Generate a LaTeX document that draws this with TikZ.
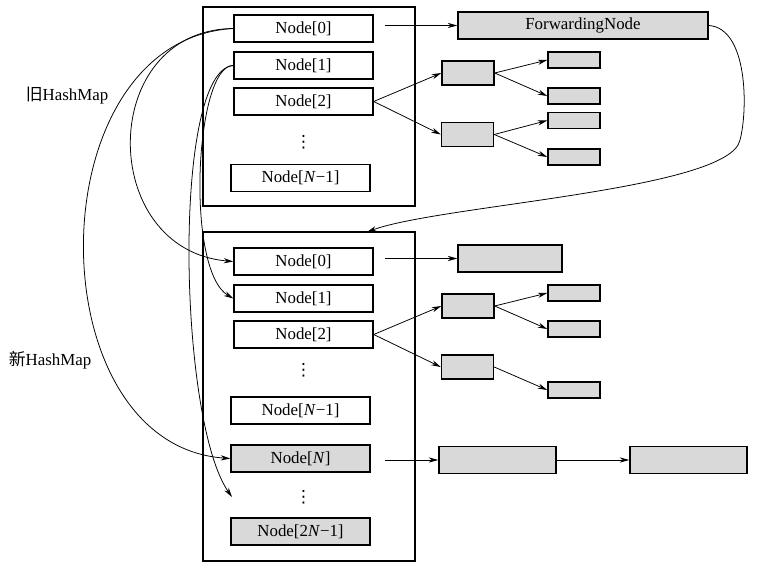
\documentclass[tikz,border=0pt]{standalone}
\usepackage{fontspec}
\setmainfont{Liberation Serif}
\newfontfamily\cjk{Noto Sans CJK SC}
\newfontfamily\symf{DejaVu Sans}
\usetikzlibrary{arrows.meta}
\definecolor{cellgray}{RGB}{217,217,217}

\begin{document}
\begin{tikzpicture}[x=0.025cm,y=-0.025cm,
    every node/.style={font=\fontsize{12}{14}\selectfont},
    table/.style={draw,line width=1pt,minimum width=5.3cm,inner sep=0pt},
    slot/.style={draw,line width=1pt,minimum width=3.475cm,minimum height=0.675cm,inner sep=0pt},
    newslot/.style={slot,fill=cellgray},
    cell/.style={draw,line width=1pt,fill=cellgray,inner sep=0pt,minimum width=1.3cm,minimum height=0.6cm},
    leaf/.style={cell,minimum height=0.4cm},
    more/.style={inner sep=0pt,font=\symf\fontsize{12}{14}\selectfont},
    link/.style={-{Stealth[length=2.4mm,width=1.3mm]},line width=0.55pt}]
    \useasboundingbox (0,0) rectangle (775,571);

    \node[table,minimum height=4.975cm] (old) at (309,106.5) {};
    \node[slot] (o0) at (303.5,28.5) {Node[0]};
    \node[slot] (o1) at (303.5,65.5) {Node[1]};
    \node[slot] (o2) at (303.5,101.5) {Node[2]};
    \node[more] (odots) at (303.5,142) {⋮};
    \node[slot] (on1) at (300.5,178) {Node[\textit{N}−1]};
    \node (oldlbl) at (67,96) {{\cjk 旧}HashMap};

    \node[cell,minimum width=6.25cm,minimum height=0.675cm] (fwd) at (583,25.5) {ForwardingNode};
    \node[cell] (oa1) at (468,73) {};
    \node[cell] (oa2) at (467.5,134.5) {};
    \node[leaf] (ob1) at (574,60) {};
    \node[leaf] (ob2) at (574,96) {};
    \node[leaf] (ob3) at (574,120.5) {};
    \node[leaf] (ob4) at (574,157) {};

    \node[table,minimum height=8.225cm] (new) at (309,396.5) {};
    \node[slot] (n0) at (303.5,261.5) {Node[0]};
    \node[slot] (n1) at (303.5,298.5) {Node[1]};
    \node[slot] (n2) at (303.5,334.5) {Node[2]};
    \node[more] (ndots) at (303.5,370) {⋮};
    \node[slot] (nn1) at (300.5,410.5) {Node[\textit{N}−1]};
    \node[newslot] (nn) at (300.5,458.5) {Node[\textit{N}]};
    \node[more] (ndots2) at (303.5,497) {⋮};
    \node[newslot] (n2n1) at (300.5,531.5) {Node[2\textit{N}−1]};
    \node (newlbl) at (50,360) {{\cjk 新}HashMap};

    \node[cell,minimum width=2.6cm,minimum height=0.675cm] (nc0) at (510,258.5) {};
    \node[cell] (na1) at (468,306) {};
    \node[cell] (na2) at (467.5,367) {};
    \node[leaf] (nb1) at (574,293) {};
    \node[leaf] (nb2) at (574,329) {};
    \node[leaf] (nb3) at (574,390) {};
    \node[cell,minimum width=2.925cm,minimum height=0.675cm] (nd1) at (497.5,460) {};
    \node[cell,minimum width=2.925cm,minimum height=0.675cm] (nd2) at (688.5,460) {};

    \coordinate (fwdin) at (367,232);
    \coordinate (dotsin) at (232,497);

    \path[link]
	(o0.east |- fwd.west) edge[shorten <=0.27cm] (fwd.west)
	(o2.east) edge (oa1.west)
	(o2.east) edge (oa2.west)
	(oa1.east) edge (ob1.west)
	(oa1.east) edge (ob2.west)
	(oa2.east) edge (ob3.west)
	(oa2.east) edge (ob4.west)
	(n0.east |- nc0.west) edge[shorten <=0.27cm] (nc0.west)
	(n2.east) edge (na1.west)
	(n2.east) edge (na2.west)
	(na1.east) edge (nb1.west)
	(na1.east) edge (nb2.west)
	(na2.east) edge (nb3.west)
	(nn.east |- nd1.west) edge[shorten <=0.35cm] (nd1.west)
	(nd1.east) edge (nd2.west);

    \draw[link] (fwd.east) .. controls (748,28) and (748,110) .. (740,140)
	.. controls (730,190) and (440,205) .. (fwdin);
    \draw[link] (o0.west) .. controls (35,40) and (35,445) .. (nn.west);
    \draw[link] (o0.west) .. controls (97,30) and (97,250) .. (n0.west);
    \draw[link] (o1.west) .. controls (195,65) and (185,270) .. (n1.west);
    \draw[link] (o1.west) .. controls (172,70) and (178,420) .. (dotsin);
\end{tikzpicture}
\end{document}
